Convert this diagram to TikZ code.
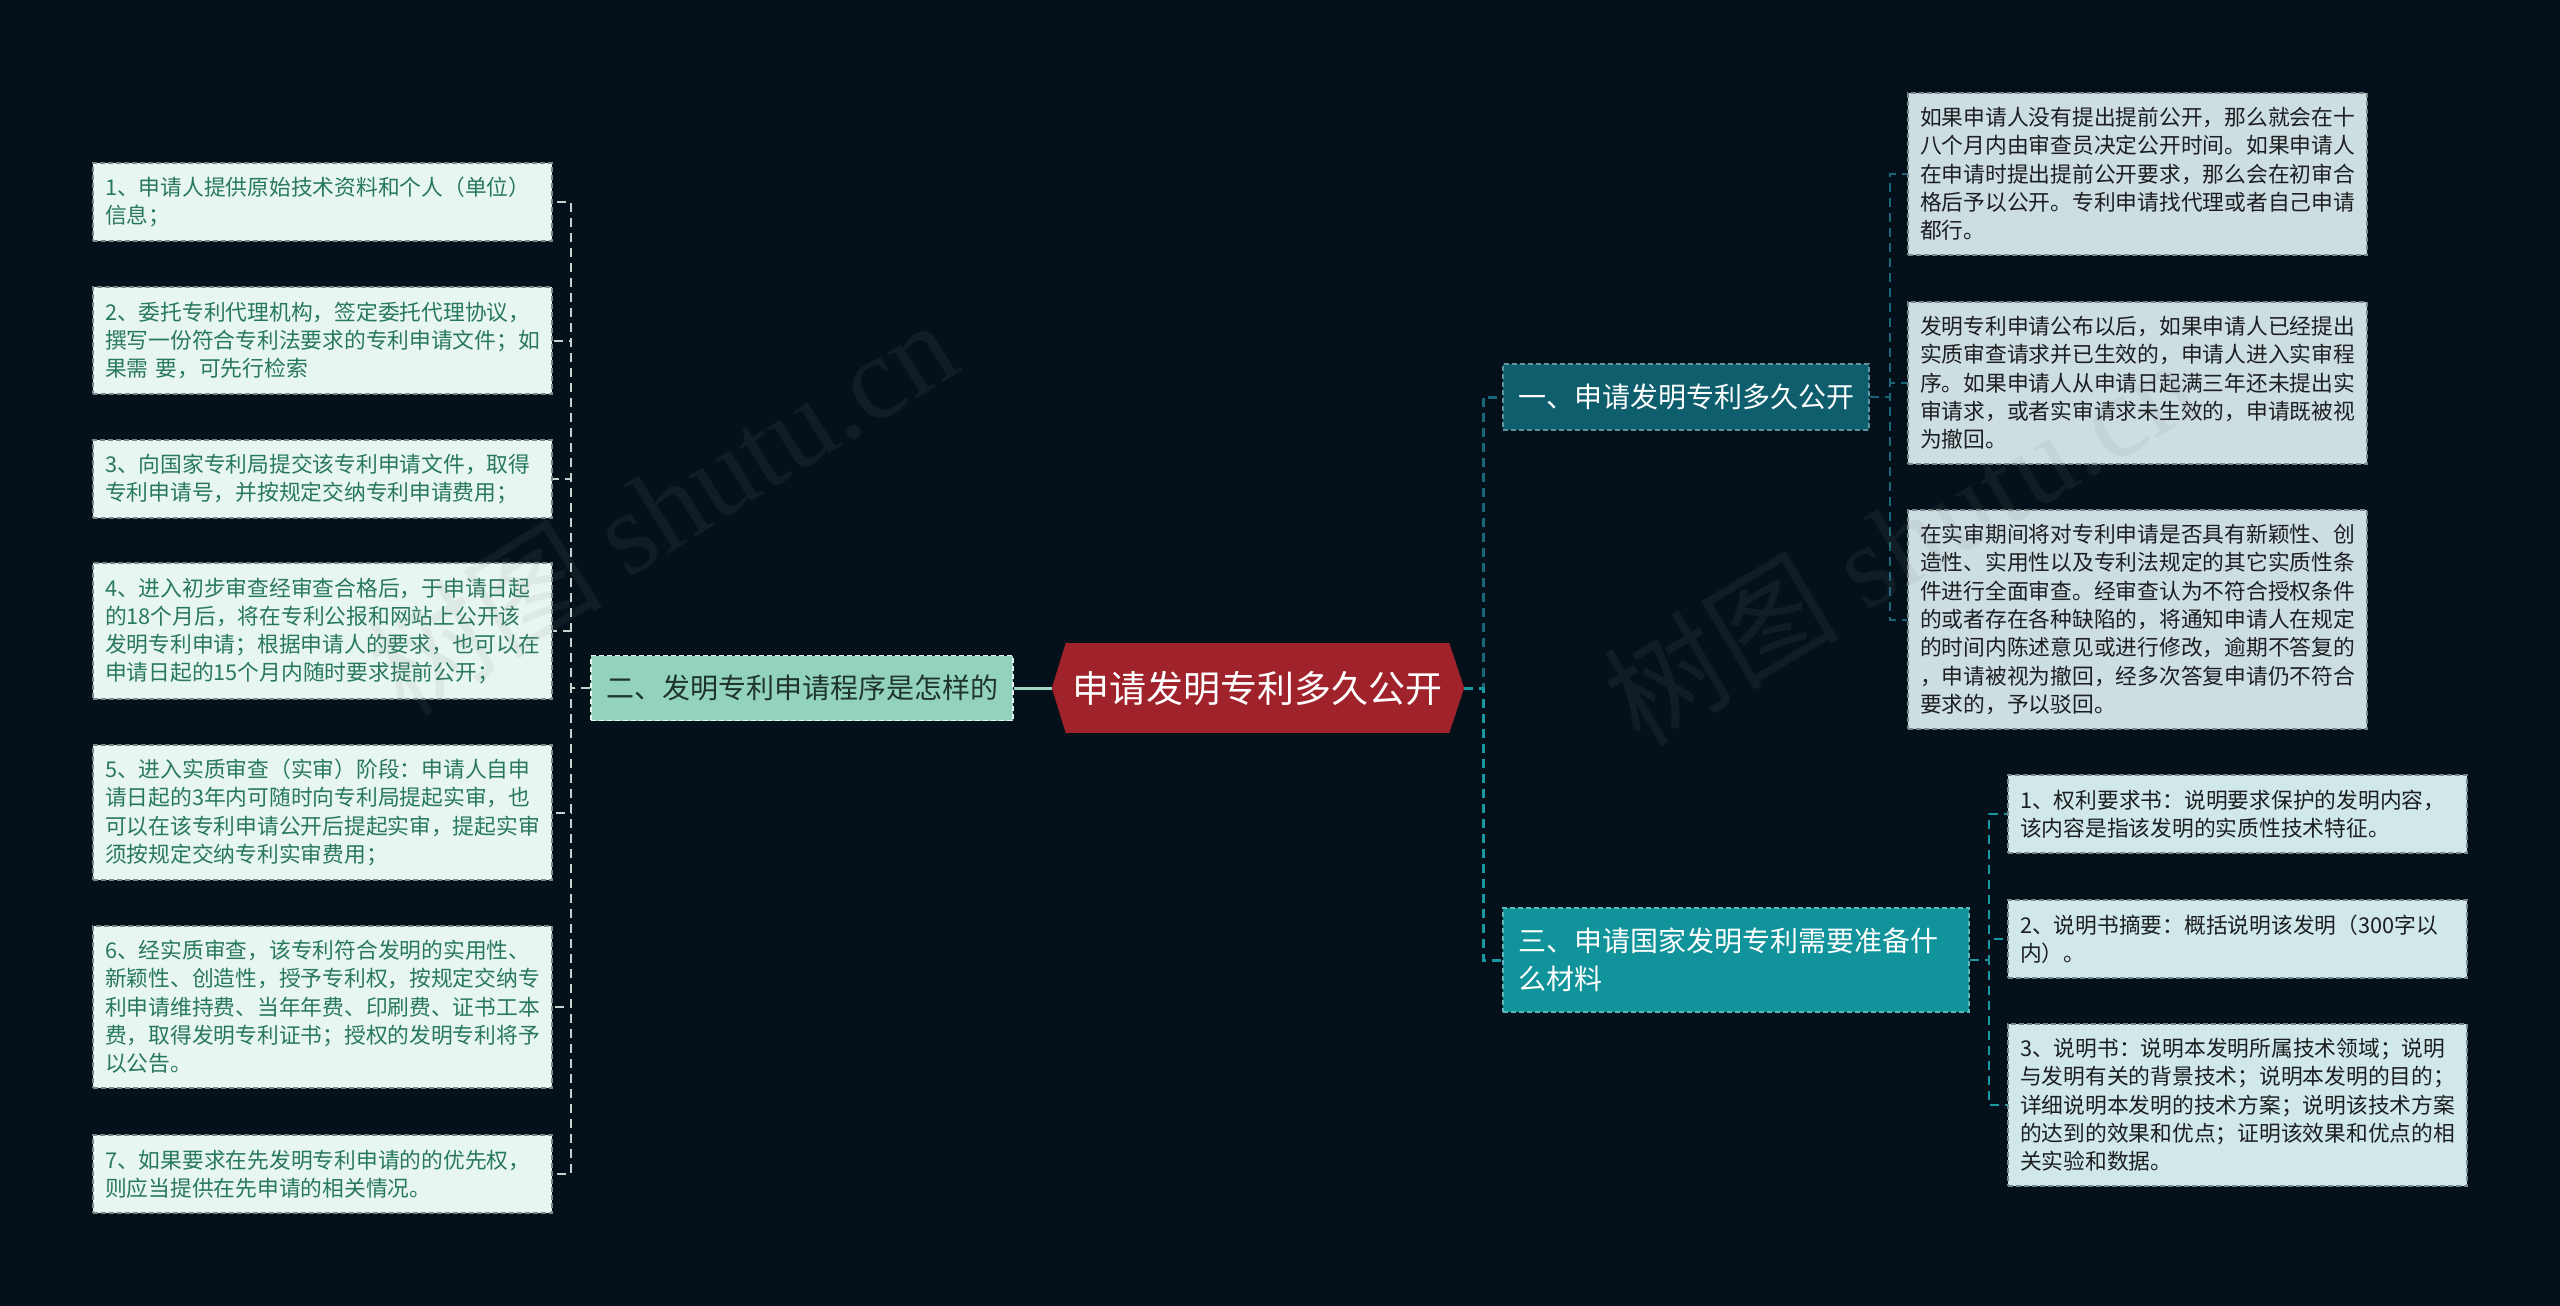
\documentclass[tikz,border=0pt]{standalone}
\usepackage{fontspec}
\setmainfont{Noto Sans CJK SC}
\newfontfamily\wmserif{Liberation Serif}
\usetikzlibrary{calc}
\definecolor{bgc}{RGB}{4,17,26}
\definecolor{rootred}{RGB}{160,34,42}
\definecolor{mintmain}{RGB}{147,211,189}
\definecolor{minttext}{RGB}{30,52,45}
\definecolor{tealdark}{RGB}{14,94,110}
\definecolor{tealbright}{RGB}{16,147,154}
\definecolor{leafLfill}{RGB}{232,246,241}
\definecolor{leafLtext}{RGB}{40,120,95}
\definecolor{leafAfill}{RGB}{205,222,227}
\definecolor{leafBfill}{RGB}{208,232,234}
\definecolor{leaftext}{RGB}{28,30,32}
\definecolor{leafborder}{RGB}{120,135,135}
\definecolor{connL}{RGB}{195,212,206}
\definecolor{connRootL}{RGB}{160,215,195}
\definecolor{connA}{RGB}{24,102,120}
\definecolor{connB}{RGB}{24,152,160}
\begin{document}
\begin{tikzpicture}[x=1pt,y=-1pt,
  every node/.style={inner sep=0pt},
  dsh/.style={dash pattern=on 9pt off 6pt},
  leaffont/.style={font=\fontsize{21.75pt}{28.3pt}\selectfont},
  leafbase/.style={leaffont, text width=435pt, inner xsep=12pt, inner ysep=0pt,
     align=left, draw=leafborder, line width=1.5pt, dash pattern=on 5pt off 3pt},
  leafL/.style={leafbase, fill=leafLfill, text=leafLtext},
  leafA/.style={leafbase, fill=leafAfill, text=leaftext},
  leafB/.style={leafbase, fill=leafBfill, text=leaftext},
  mainfont/.style={font=\fontsize{28pt}{38pt}\selectfont},
  rootbox/.style={fill=rootred, text=white, font=\fontsize{37pt}{44pt}\selectfont,
     minimum width=383pt, minimum height=90pt},
  conn/.style={line width=2pt, dsh},
  wmark/.style={text=gray, opacity=0.11, font=\fontsize{118pt}{130pt}\selectfont},
]
\useasboundingbox (0,0) rectangle (2560,1306);
\fill[bgc] (0,0) rectangle (2560,1306);

% root
\node[rootbox] (root) at (1257.5,688) {申请发明专利多久公开};
\fill[rootred] (root.north west) -- ($(root.west)+(-14,0)$) -- (root.south west) -- cycle;
\fill[rootred] (root.north east) -- ($(root.east)+(15,0)$) -- (root.south east) -- cycle;
\coordinate (rootW) at ($(root.west)+(-14,0)$);
\coordinate (rootE) at ($(root.east)+(15,0)$);

% main branches
\node[mainfont, fill=mintmain, text=minttext, draw=leafLfill, line width=1.5pt,
  dash pattern=on 5pt off 3pt, minimum width=422pt, minimum height=65pt]
  (L) at (802,688) {二、发明专利申请程序是怎样的};
\node[mainfont, fill=tealdark, text=white, draw=connA!70!white, line width=1.5pt,
  dash pattern=on 5pt off 3pt, minimum width=366pt, minimum height=66pt]
  (R1) at (1686,397) {一、申请发明专利多久公开};
\node[mainfont, fill=tealbright, text=white, draw=connB!70!white, line width=1.5pt,
  dash pattern=on 5pt off 3pt, text width=436pt, inner xsep=15pt, align=left,
  minimum height=104pt]
  (R3) at (1736,960) {三、申请国家发明专利需要准备什\\么材料};

% right-1 leaves
\node[leafA, minimum height=162pt] (A1) at (2137.5,174) {如果申请人没有提出提前公开，那么就会在十\\八个月内由审查员决定公开时间。如果申请人\\在申请时提出提前公开要求，那么会在初审合\\格后予以公开。专利申请找代理或者自己申请\\都行。};
\node[leafA, minimum height=162pt] (A2) at (2137.5,383) {发明专利申请公布以后，如果申请人已经提出\\实质审查请求并已生效的，申请人进入实审程\\序。如果申请人从申请日起满三年还未提出实\\审请求，或者实审请求未生效的，申请既被视\\为撤回。};
\node[leafA, minimum height=219pt] (A3) at (2137.5,619.5) {在实审期间将对专利申请是否具有新颖性、创\\造性、实用性以及专利法规定的其它实质性条\\件进行全面审查。经审查认为不符合授权条件\\的或者存在各种缺陷的，将通知申请人在规定\\的时间内陈述意见或进行修改，逾期不答复的\\，申请被视为撤回，经多次答复申请仍不符合\\要求的，予以驳回。};

% right-3 leaves
\node[leafB, minimum height=78pt] (B1) at (2237.5,814) {1、权利要求书：说明要求保护的发明内容，\\该内容是指该发明的实质性技术特征。};
\node[leafB, minimum height=78pt] (B2) at (2237.5,939) {2、说明书摘要：概括说明该发明（300字以\\内）。};
\node[leafB, minimum height=162pt] (B3) at (2237.5,1105) {3、说明书：说明本发明所属技术领域；说明\\与发明有关的背景技术；说明本发明的目的；\\详细说明本发明的技术方案；说明该技术方案\\的达到的效果和优点；证明该效果和优点的相\\关实验和数据。};

% left leaves
\node[leafL, minimum height=78pt] (C1) at (322.5,202) {1、申请人提供原始技术资料和个人（单位）\\信息；};
\node[leafL, minimum height=107pt] (C2) at (322.5,340.5) {2、委托专利代理机构，签定委托代理协议，\\撰写一份符合专利法要求的专利申请文件；如\\果需 要，可先行检索};
\node[leafL, minimum height=78pt] (C3) at (322.5,479) {3、向国家专利局提交该专利申请文件，取得\\专利申请号，并按规定交纳专利申请费用；};
\node[leafL, minimum height=136pt] (C4) at (322.5,631) {4、进入初步审查经审查合格后，于申请日起\\的18个月后，将在专利公报和网站上公开该\\发明专利申请；根据申请人的要求，也可以在\\申请日起的15个月内随时要求提前公开；};
\node[leafL, minimum height=135pt] (C5) at (322.5,812.5) {5、进入实质审查（实审）阶段：申请人自申\\请日起的3年内可随时向专利局提起实审，也\\可以在该专利申请公开后提起实审，提起实审\\须按规定交纳专利实审费用；};
\node[leafL, minimum height=162pt] (C6) at (322.5,1007) {6、经实质审查，该专利符合发明的实用性、\\新颖性、创造性，授予专利权，按规定交纳专\\利申请维持费、当年年费、印刷费、证书工本\\费，取得发明专利证书；授权的发明专利将予\\以公告。};
\node[leafL, minimum height=78pt] (C7) at (322.5,1174) {7、如果要求在先发明专利申请的的优先权，\\则应当提供在先申请的相关情况。};

% connectors: root
\draw[connRootL, line width=3pt] (L.east) -- (rootW);
\draw[connA, line width=3pt, dsh] (rootE) -- ++(19,0) |- (R1.west);
\draw[connB, line width=3pt, dsh] (rootE) -- ++(19,0) |- (R3.west);

% connectors: left
\foreach \n in {C1,C2,C3,C4,C5,C6,C7}
  \draw[connL, conn] (L.west) -- ++(-19,0) |- (\n.east);
% connectors: right-1
\foreach \n in {A1,A2,A3}
  \draw[connA, conn] (R1.east) -- ++(20,0) |- (\n.west);
% connectors: right-3
\foreach \n in {B1,B2,B3}
  \draw[connB, conn] (R3.east) -- ++(19,0) |- (\n.west);

% watermarks
\node[wmark, rotate=32] (wm1) at (661,506) {树图 {\wmserif shutu.cn}};
\node[wmark, rotate=31] (wm2) at (1900,540) {树图 {\wmserif shutu.cn}};
\end{tikzpicture}
\end{document}
